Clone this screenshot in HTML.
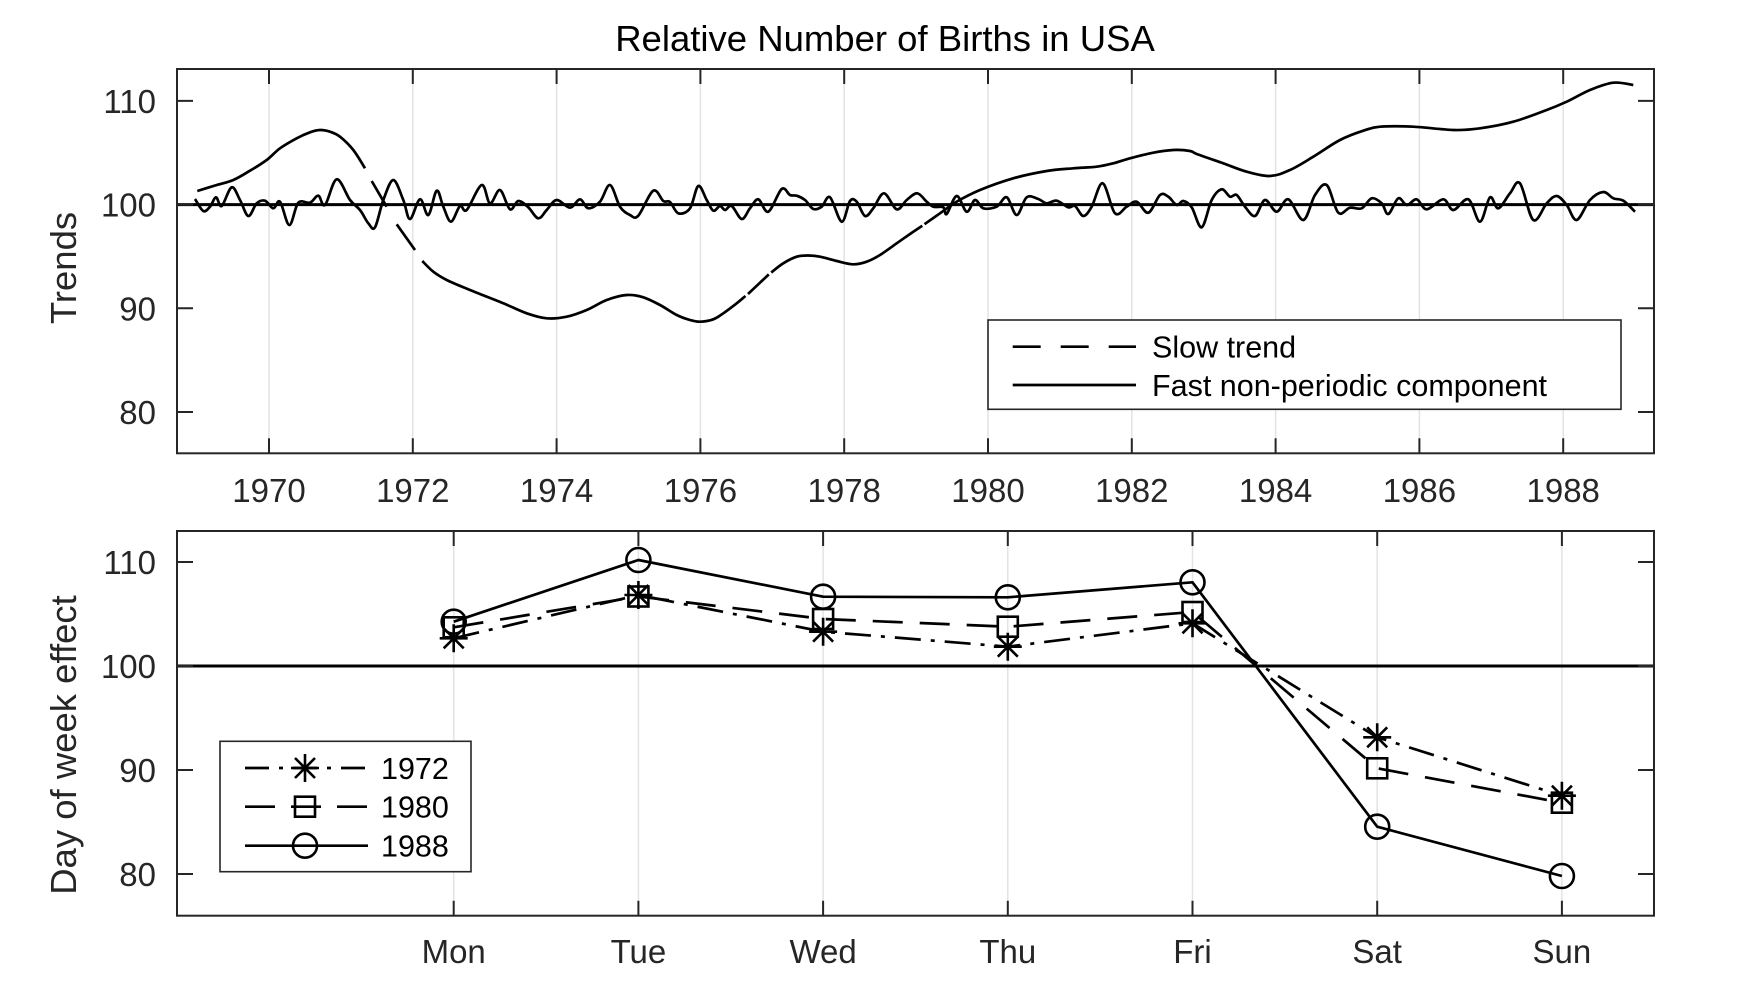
<!DOCTYPE html>
<html>
<head>
<meta charset="utf-8">
<style>
  html, body { margin: 0; padding: 0; background: #fff; }
  svg { display: block; }
  text { font-family: "Liberation Sans", Arial, Helvetica, sans-serif; fill: #262626; }
</style>
</head>
<body>
<svg width="1746" height="982" viewBox="0 0 1746 982" xmlns="http://www.w3.org/2000/svg">
  <rect x="0" y="0" width="1746" height="982" fill="#fff"/>

  <!-- Title -->
  <text x="885" y="51" font-size="36.5" text-anchor="middle" style="fill:#000">Relative Number of Births in USA</text>

  <!-- ================= TOP AXES ================= -->
  <g stroke="#e3e3e3" stroke-width="1.5">
    <line x1="269" y1="69" x2="269" y2="453.3"/>
    <line x1="412.8" y1="69" x2="412.8" y2="453.3"/>
    <line x1="556.6" y1="69" x2="556.6" y2="453.3"/>
    <line x1="700.4" y1="69" x2="700.4" y2="453.3"/>
    <line x1="844.2" y1="69" x2="844.2" y2="453.3"/>
    <line x1="988" y1="69" x2="988" y2="453.3"/>
    <line x1="1131.8" y1="69" x2="1131.8" y2="453.3"/>
    <line x1="1275.6" y1="69" x2="1275.6" y2="453.3"/>
    <line x1="1419.4" y1="69" x2="1419.4" y2="453.3"/>
    <line x1="1563.2" y1="69" x2="1563.2" y2="453.3"/>
  </g>

  <line x1="177" y1="204.6" x2="1654" y2="204.6" stroke="#000" stroke-width="3"/>

  <!-- slow trend -->
  <path class="smooth" fill="none" stroke="#000" stroke-width="2.7" stroke-linejoin="round" stroke-linecap="butt" d="
    M197.3,191 L216.7,185 L233.3,180 L250,170.7 L266.7,160 L280,148.3 L296.7,138.3 L310,132.3 L320,130 L330,131.7 L340,136.7 L353.3,150 L365,168.3
    M371.7,181 L386.7,206.7
    M396.7,224.3 L415,250
    M422.3,261 L433.3,271.7 L446.7,280 L470,290 L503.3,303.3 L526.7,313.3 L546.7,318.3 L566.7,316.7 L586.7,310 L606.7,300 L626.7,295 L643.3,297.3 L660,305 L676.7,315 L690,320 L700,321.7 L713.3,319.3 L723.3,313.3 L736.7,303.3 L745.5,296
    M748,294 L760,282.7 L768.8,274.4
    M771.2,272.5 L783.3,263.3 L796.7,256.7 L808,255.5 L820,256.7 L836.7,261 L853.3,264.3 L866.7,261.7 L880,255 L896.7,243.3 L913.3,231.7 L922.3,225.7
    M924.5,224.2 L940,213.3 L956.7,201.7 L980,190 L1013.3,178.3 L1046.7,171 L1073.3,168.3 L1096.7,166.7 L1113.3,163.3 L1130,158.3 L1153.3,152.7 L1173.3,150 L1190,151 L1196.7,154 L1223.3,163.3 L1246.7,171.7 L1270,176 L1290,170 L1313.3,156.7 L1340,140 L1363.3,130.7 L1380,126.7 L1413.3,126.7 L1453.3,130 L1480,128.3 L1513.3,121.7 L1546.7,110 L1566.7,101.7 L1590,90 L1613.3,82.7 L1633.3,85"/>

  <!-- fast non-periodic component -->
  <path class="smooth" fill="none" stroke="#000" stroke-width="2.7" stroke-linejoin="round" d="
    M195,199 L203.3,211 L210,206.7 L216,197.3 L221.7,206 L231.7,187.3 L240,200 L248.3,216 L256.7,203.3 L265,200.7 L273.3,208.3 L280,201.7 L289.3,225 L298.3,202.7 L310,202.7 L318.3,195.7 L325,205 L336.7,179.3 L350,200 L360,210 L368.3,223.3 L375,227.3 L383.3,200 L393.3,180 L403.3,200 L410,219 L420,199.3 L428.3,215 L436.7,190.7 L443.3,206.7 L451,221.7 L460,206 L466.7,210 L481.7,185 L490,203.3 L500,190 L510,209.3 L518.3,201 L528.3,207.3 L538.3,218.3 L546.7,210 L556.7,200 L570,207.7 L580,199.3 L588.3,208.3 L600,201.7 L610,185 L620,206.7 L630,215 L638.3,215.7 L653.3,190.7 L663.3,201 L670,202 L678.3,213.3 L690,208.3 L698.3,186 L706.7,200 L713.3,210.7 L720,206 L725,210 L731.7,206 L741.7,219 L750,208.3 L758.3,199.3 L768.3,211.7 L781.7,189 L790,195 L796.7,195.7 L805,200 L813.3,209 L821.7,206.7 L830,197.3 L841.7,221.7 L850,201 L856.7,201.7 L865,216 L873.3,208.3 L884,193.3 L896.7,209.3 L906.7,200 L917.3,193.3 L926.7,201.7 L933.3,206.7 L943.3,207.3 L946.7,214 L956.7,196 L966.7,211.7 L975,200 L983.3,208.3 L996.7,206.7 L1006.7,197.3 L1016.7,215 L1026.7,197.3 L1038.3,199 L1046.7,203.3 L1056.7,200.7 L1068.3,207.3 L1075,206 L1083.3,216 L1091.7,206.7 L1102.7,183.3 L1115,213.3 L1126.7,206.7 L1136.7,201.7 L1148.3,212.7 L1160,195 L1168.3,196.7 L1176.7,205 L1183.3,201 L1191.7,207.3 L1201.7,227.3 L1211.7,200 L1221.7,189.3 L1230,196.7 L1236.7,195 L1245,206.7 L1255,216 L1265,200 L1276.7,211.7 L1288.3,199.3 L1303.3,220 L1315,195 L1326.7,185 L1338.3,212.7 L1350,207.7 L1361.7,208.3 L1371.7,198.3 L1381.7,203.3 L1388.3,214 L1398.3,198.3 L1406.7,205 L1416.7,199.3 L1426.7,209.3 L1443.3,199.3 L1453.3,210 L1468.3,199.3 L1480,221.7 L1490,197.3 L1498.3,208.3 L1510,193.3 L1520,183.3 L1533.3,220 L1546.7,203.3 L1556.7,196 L1566.7,205 L1576.7,220 L1590,200 L1603.3,192 L1613.3,198.3 L1623.3,200.7 L1635,211.7"/>

  <g stroke="#262626" stroke-width="2" fill="none">
    <rect x="177" y="69" width="1477" height="384.3"/>
    <path d="M269,453.3v-15 M412.8,453.3v-15 M556.6,453.3v-15 M700.4,453.3v-15 M844.2,453.3v-15 M988,453.3v-15 M1131.8,453.3v-15 M1275.6,453.3v-15 M1419.4,453.3v-15 M1563.2,453.3v-15
             M269,69v15 M412.8,69v15 M556.6,69v15 M700.4,69v15 M844.2,69v15 M988,69v15 M1131.8,69v15 M1275.6,69v15 M1419.4,69v15 M1563.2,69v15"/>
    <path d="M177,100.9h16 M177,204.6h16 M177,308.3h16 M177,412h16
             M1654,100.9h-16 M1654,204.6h-16 M1654,308.3h-16 M1654,412h-16"/>
  </g>

  <g font-size="33" text-anchor="middle">
    <text x="269" y="502">1970</text>
    <text x="412.8" y="502">1972</text>
    <text x="556.6" y="502">1974</text>
    <text x="700.4" y="502">1976</text>
    <text x="844.2" y="502">1978</text>
    <text x="988" y="502">1980</text>
    <text x="1131.8" y="502">1982</text>
    <text x="1275.6" y="502">1984</text>
    <text x="1419.4" y="502">1986</text>
    <text x="1563.2" y="502">1988</text>
  </g>
  <g font-size="33" text-anchor="end">
    <text x="156" y="113">110</text>
    <text x="156" y="216.6">100</text>
    <text x="156" y="320.3">90</text>
    <text x="156" y="424">80</text>
  </g>
  <text x="76" y="268" font-size="36.5" text-anchor="middle" transform="rotate(-90 76 268)">Trends</text>

  <rect x="988" y="320" width="633" height="89.3" fill="#fff" stroke="#262626" stroke-width="1.6"/>
  <line x1="1012.7" y1="346.7" x2="1136" y2="346.7" stroke="#000" stroke-width="2.7" stroke-dasharray="28 20"/>
  <line x1="1012.7" y1="385" x2="1136" y2="385" stroke="#000" stroke-width="2.7"/>
  <g font-size="30.5">
    <text x="1152" y="357.5" style="fill:#000">Slow trend</text>
    <text x="1152" y="396" style="fill:#000">Fast non-periodic component</text>
  </g>

  <!-- ================= BOTTOM AXES ================= -->
  <g stroke="#e3e3e3" stroke-width="1.5">
    <line x1="453.7" y1="531" x2="453.7" y2="915.7"/>
    <line x1="638.4" y1="531" x2="638.4" y2="915.7"/>
    <line x1="823.1" y1="531" x2="823.1" y2="915.7"/>
    <line x1="1007.8" y1="531" x2="1007.8" y2="915.7"/>
    <line x1="1192.5" y1="531" x2="1192.5" y2="915.7"/>
    <line x1="1377.2" y1="531" x2="1377.2" y2="915.7"/>
    <line x1="1561.9" y1="531" x2="1561.9" y2="915.7"/>
  </g>

  <line x1="177" y1="666" x2="1654" y2="666" stroke="#000" stroke-width="3"/>

  <polyline fill="none" stroke="#000" stroke-width="2.7" stroke-linejoin="round" stroke-dasharray="26 10 4 10"
    points="453.7,638.3 638.4,595 823.1,631.7 1007.8,646.7 1192.5,623.3 1377.2,737.3 1561.9,795.7"/>
  <polyline fill="none" stroke="#000" stroke-width="2.7" stroke-linejoin="round" stroke-dasharray="30 17"
    points="453.7,627.3 638.4,596.5 823.1,619 1007.8,626.7 1192.5,612 1377.2,768.3 1561.9,802.7"/>
  <polyline fill="none" stroke="#000" stroke-width="2.7" stroke-linejoin="round"
    points="453.7,621.7 638.4,560 823.1,596.7 1007.8,597.3 1192.5,582.3 1377.2,826.7 1561.9,876"/>

  <defs>
    <g id="star">
      <path d="M-14,0H14 M0,-14V14 M-10,-10L10,10 M-10,10L10,-10" stroke="#000" stroke-width="2.6" fill="none"/>
    </g>
    <g id="sq">
      <rect x="-10" y="-10" width="20" height="20" stroke="#000" stroke-width="2.6" fill="none"/>
    </g>
    <g id="circ">
      <circle cx="0" cy="0" r="12" stroke="#000" stroke-width="2.6" fill="none"/>
    </g>
  </defs>
  <use href="#star" x="453.7" y="638.3"/>
  <use href="#star" x="638.4" y="595"/>
  <use href="#star" x="823.1" y="631.7"/>
  <use href="#star" x="1007.8" y="646.7"/>
  <use href="#star" x="1192.5" y="623.3"/>
  <use href="#star" x="1377.2" y="737.3"/>
  <use href="#star" x="1561.9" y="795.7"/>

  <use href="#sq" x="453.7" y="627.3"/>
  <use href="#sq" x="638.4" y="596.5"/>
  <use href="#sq" x="823.1" y="619"/>
  <use href="#sq" x="1007.8" y="626.7"/>
  <use href="#sq" x="1192.5" y="612"/>
  <use href="#sq" x="1377.2" y="768.3"/>
  <use href="#sq" x="1561.9" y="802.7"/>

  <use href="#circ" x="453.7" y="621.7"/>
  <use href="#circ" x="638.4" y="560"/>
  <use href="#circ" x="823.1" y="596.7"/>
  <use href="#circ" x="1007.8" y="597.3"/>
  <use href="#circ" x="1192.5" y="582.3"/>
  <use href="#circ" x="1377.2" y="826.7"/>
  <use href="#circ" x="1561.9" y="876"/>

  <g stroke="#262626" stroke-width="2" fill="none">
    <rect x="177" y="531" width="1477" height="384.7"/>
    <path d="M453.7,915.7v-15 M638.4,915.7v-15 M823.1,915.7v-15 M1007.8,915.7v-15 M1192.5,915.7v-15 M1377.2,915.7v-15 M1561.9,915.7v-15
             M453.7,531v15 M638.4,531v15 M823.1,531v15 M1007.8,531v15 M1192.5,531v15 M1377.2,531v15 M1561.9,531v15"/>
    <path d="M177,562h16 M177,666h16 M177,770h16 M177,874h16
             M1654,562h-16 M1654,666h-16 M1654,770h-16 M1654,874h-16"/>
  </g>

  <g font-size="33" text-anchor="middle">
    <text x="453.7" y="963">Mon</text>
    <text x="638.4" y="963">Tue</text>
    <text x="823.1" y="963">Wed</text>
    <text x="1007.8" y="963">Thu</text>
    <text x="1192.5" y="963">Fri</text>
    <text x="1377.2" y="963">Sat</text>
    <text x="1561.9" y="963">Sun</text>
  </g>
  <g font-size="33" text-anchor="end">
    <text x="156" y="574">110</text>
    <text x="156" y="678">100</text>
    <text x="156" y="782">90</text>
    <text x="156" y="886">80</text>
  </g>
  <text x="76" y="745" font-size="36.5" text-anchor="middle" transform="rotate(-90 76 745)">Day of week effect</text>

  <rect x="220" y="741.3" width="251" height="130.4" fill="#fff" stroke="#262626" stroke-width="1.6"/>
  <line x1="245" y1="768" x2="368" y2="768" stroke="#000" stroke-width="2.7" stroke-dasharray="24 10 4 10"/>
  <use href="#star" x="305" y="768"/>
  <line x1="245" y1="806.7" x2="368" y2="806.7" stroke="#000" stroke-width="2.7" stroke-dasharray="30 16"/>
  <use href="#sq" x="305" y="806.7"/>
  <line x1="245" y1="845.7" x2="368" y2="845.7" stroke="#000" stroke-width="2.7"/>
  <use href="#circ" x="305" y="845.7"/>
  <g font-size="30.5">
    <text x="381" y="779" style="fill:#000">1972</text>
    <text x="381" y="817.7" style="fill:#000">1980</text>
    <text x="381" y="856.7" style="fill:#000">1988</text>
  </g>
</svg>
<script>
(function(){
  try {
    var paths = document.querySelectorAll('path.smooth');
    for (var p = 0; p < paths.length; p++) {
      var d = paths[p].getAttribute('d');
      var subs = d.split('M').filter(function(s){ return s.trim().length; });
      var out = '';
      for (var s = 0; s < subs.length; s++) {
        var pts = subs[s].replace(/L/g,' ').trim().split(/\s+/).map(function(t){
          var a = t.split(','); return [parseFloat(a[0]), parseFloat(a[1])];
        });
        out += 'M' + pts[0][0] + ',' + pts[0][1];
        if (pts.length < 3) {
          for (var i = 1; i < pts.length; i++) out += ' L' + pts[i][0] + ',' + pts[i][1];
          continue;
        }
        for (var i = 0; i < pts.length - 1; i++) {
          var p0 = pts[i > 0 ? i - 1 : i], p1 = pts[i], p2 = pts[i + 1], p3 = pts[i + 2 < pts.length ? i + 2 : i + 1];
          var t = 1/6;
          var c1x = p1[0] + (p2[0] - p0[0]) * t, c1y = p1[1] + (p2[1] - p0[1]) * t;
          var c2x = p2[0] - (p3[0] - p1[0]) * t, c2y = p2[1] - (p3[1] - p1[1]) * t;
          out += ' C' + c1x.toFixed(1) + ',' + c1y.toFixed(1) + ' ' + c2x.toFixed(1) + ',' + c2y.toFixed(1) + ' ' + p2[0] + ',' + p2[1];
        }
      }
      paths[p].setAttribute('d', out);
    }
  } catch (e) {}
})();
</script>
</body>
</html>
